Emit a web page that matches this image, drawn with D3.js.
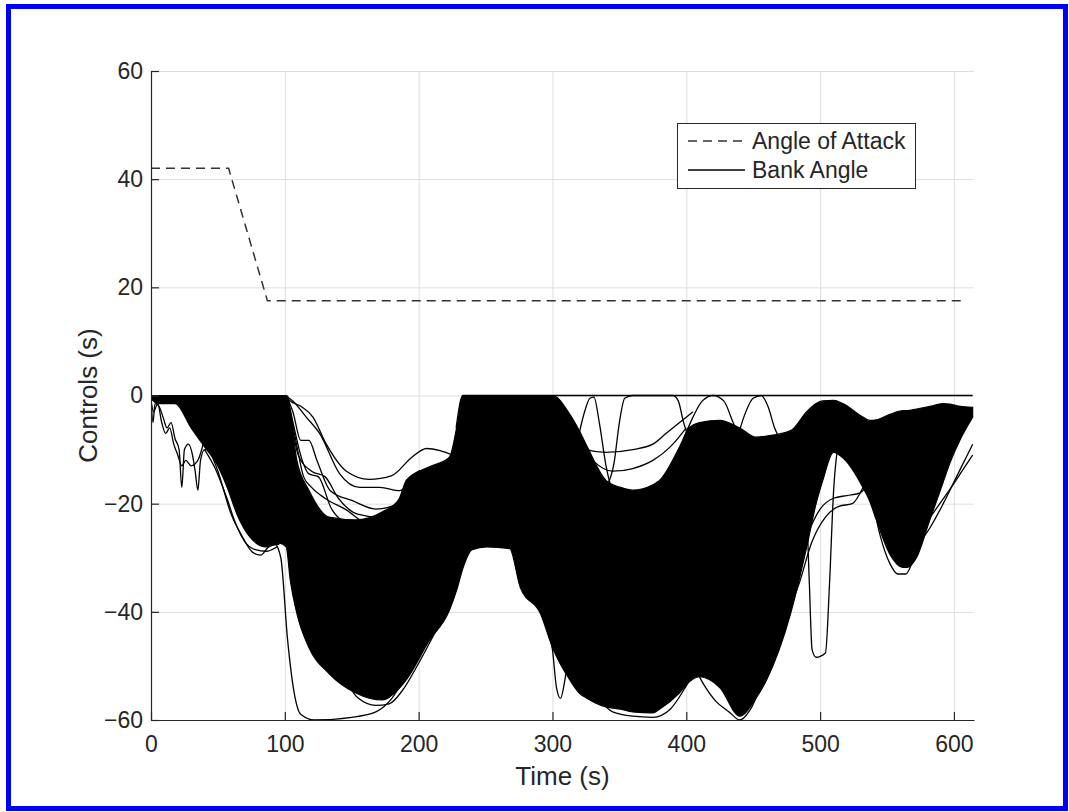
<!DOCTYPE html>
<html>
<head>
<meta charset="utf-8">
<script src="https://cdn.jsdelivr.net/npm/d3@7"></script>
<style>
  body { margin: 0; background: #fff; }
  svg { display: block; }
  text { font-family: "Liberation Sans", Arial, Helvetica, sans-serif; fill: #262626; }
</style>
</head>
<body>
<div id="chart"></div>
<script>
const width = 1069;
const height = 812;

// angle of attack schedule (time s, deg)
const aoaTime = [0, 58, 87, 607];
const aoaValue = [42, 42, 17.5, 17.5];

// dense envelope of the bank angle runs
const bankTime = [0, 5, 10, 18, 30, 40, 49, 57, 64, 74, 86, 96, 101, 104, 109, 118, 133, 153, 173, 185,
    191, 208, 223, 229, 233, 240, 251, 268, 276, 291, 300, 313, 320, 326, 340, 351, 360, 375, 380, 395,
    402, 410, 425, 440, 452, 460, 478, 490, 497, 502, 510, 517, 532, 537, 542, 552, 562, 565, 572, 582,
    592, 597, 605, 614];
const bankLow = [-0.5, -1.5, -1.5, -1.5, -6, -9.5, -12.6, -17, -21.8, -26.2, -28, -27.3, -28, -34, -40.3, -46.6, -51.4, -55, -56.3, -54.3,
    -52.5, -45.3, -39.7, -35.5, -32, -28.5, -28, -28.3, -35.5, -40.3, -46.6, -52.6, -55, -56, -57.6, -58, -58.5, -58.7, -58, -55,
    -53, -52, -54, -59.3, -56, -52.6, -40.3, -28, -20, -15.7, -10.5, -11.5, -17, -19.5, -23, -29.3, -31.8, -31.8, -30, -23,
    -16, -12.5, -8, -4];
const bankHigh = [0, 0, 0, 0, 0, 0, 0, 0, 0, 0, 0, 0, 0, -3, -12, -17.5, -22.5, -23, -21.5, -19.3,
    -15.6, -13.2, -11.4, -5.2, 0, 0, 0, 0, 0, 0, 0, -3.5, -6.5, -9.5, -15.7, -17, -17.5, -16.5, -15.7, -9.5,
    -6, -5, -4.6, -6, -7.7, -7.5, -6.5, -3, -1.5, -1, -0.9, -1.5, -4, -4.6, -4.5, -3.5, -2.8, -2.8, -2.5, -2,
    -1.5, -1.6, -2, -2.2];

// single runs that leave the dense envelope, [time, bank]
const bankRuns = [
    [[0, 0], [1.5, -5], [3, -1.5], [6, -2], [9, -4], [12, -6], [15, -5], [18, -8], [21, -10], [23, -17], [25, -10], [28, -9], [31, -11], [33, -14], [35, -17.5], [37, -12], [40, -10], [46, -10]],
    [[0, -1], [2, -3], [5, -1.5], [8, -5], [11, -7], [14, -6], [17, -9], [20, -11], [23, -13], [26, -12], [30, -13], [35, -12], [40, -8]],
    [[42, -9], [50, -14], [60, -22], [68, -26], [76, -29], [82, -29.5], [88, -28], [96, -27.5]],
    [[40, -10], [48, -13.5], [56, -18.5], [63, -23.5], [70, -27], [78, -28.5], [86, -28.8], [94, -28]],
    [[92, -27], [97, -30], [102, -45], [107, -55], [112, -59], [122, -60], [150, -59.5], [168, -58.5], [180, -56], [190, -52]],
    [[100, 0], [104, -1], [112, -2], [121, -4], [131, -9], [146, -14], [163, -15.5], [180, -14.8], [195, -11.4], [206, -9.8], [216, -10.2], [225, -11]],
    [[100, 0], [106, -1], [116, -4], [126, -7], [141, -14.5], [156, -17], [171, -17], [186, -17.6], [201, -13.9], [211, -14], [222, -13]],
    [[101, 0], [106, -3], [112, -8.3], [118, -8.3], [124, -12], [134, -17.6], [151, -19.5], [168, -21], [185, -20], [200, -16], [212, -15]],
    [[101, 0], [105, -5], [110, -11], [120, -14], [130, -15], [140, -19], [155, -22], [170, -22.5], [185, -21]],
    [[100, 0], [103, -2], [108, -8], [114, -15], [120, -17], [130, -19], [145, -21], [165, -24], [180, -23]],
    [[102, 0], [107, -6], [113, -12], [118, -14.5], [125, -15], [135, -21], [150, -24], [170, -25]],
    [[140, -50], [155, -56], [168, -57.3], [178, -57], [188, -54.5], [200, -49.5], [214, -43]],
    [[228, -6], [233, 0], [614, 0]],
    [[296, -42], [300, -47], [303, -54], [306, -56], [309, -53], [313, -46], [318, -40]],
    [[312, -14], [318, -9], [324, -3], [328, -0.5], [331, -0.3], [335, -5], [340, -13], [345, -18]],
    [[340, -17], [346, -12.5], [350, -5], [354, -0.5], [360, 0], [390, 0], [394, -1], [398, -5], [402, -8]],
    [[300, 0], [310, -4], [318, -8], [325, -10], [340, -10.5], [360, -10], [375, -9], [385, -7], [395, -5], [405, -3]],
    [[305, -2], [315, -7], [330, -12], [345, -14], [360, -13.5], [375, -12], [390, -9], [400, -6]],
    [[330, -54], [345, -58.5], [360, -59.3], [375, -59.5], [388, -58], [398, -54.5], [406, -51]],
    [[402, -48], [412, -53], [422, -56.5], [432, -58.5], [440, -60], [448, -58], [458, -52]],
    [[398, -8], [405, -4], [412, -1], [420, 0], [428, -1], [435, -5], [442, -9]],
    [[436, -10], [443, -4], [450, -0.5], [456, 0], [461, -2], [466, -6], [472, -9]],
    [[470, -40], [480, -33], [490, -26], [500, -21], [510, -19], [520, -18.5], [530, -18], [538, -15]],
    [[476, -40], [484, -35], [494, -27], [504, -22.5], [514, -20.5], [524, -20], [532, -17]],
    [[486, -8], [489, -15], [492, -35], [494, -47], [497, -48.4], [504, -47.6], [507, -35], [510, -18], [513, -10], [517, -7]],
    [[538, -18], [545, -26], [552, -31], [558, -33], [564, -33], [570, -30], [576, -25]],
    [[572, -28], [582, -24.5], [592, -20], [602, -15], [609, -11.5], [614, -9]],
    [[578, -24], [588, -20.5], [598, -17], [606, -14], [614, -11]]
];

const xTicks = [0, 100, 200, 300, 400, 500, 600];
const yTicks = [-60, -40, -20, 0, 20, 40, 60];

const margin = { left: 151, right: 974, top: 71, bottom: 720 };

const svg = d3.select("#chart").append("svg")
    .attr("width", width)
    .attr("height", height);

svg.append("rect")
    .attr("width", width)
    .attr("height", height)
    .attr("fill", "#fff");

const x = d3.scaleLinear().domain([0, 615]).range([margin.left, margin.right]);
const y = d3.scaleLinear().domain([-60, 60]).range([margin.bottom, margin.top]);

const plotW = margin.right - margin.left;
const plotH = margin.bottom - margin.top;

// grid
svg.append("g")
    .attr("transform", `translate(0,${margin.bottom})`)
    .call(d3.axisBottom(x).tickValues(xTicks).tickSize(-plotH).tickFormat(""))
    .call(g => g.select(".domain").remove())
    .call(g => g.selectAll("line").attr("stroke", "#dedede").attr("stroke-width", 1));

svg.append("g")
    .attr("transform", `translate(${margin.left},0)`)
    .call(d3.axisLeft(y).tickValues(yTicks).tickSize(-plotW).tickFormat(""))
    .call(g => g.select(".domain").remove())
    .call(g => g.selectAll("line").attr("stroke", "#dedede").attr("stroke-width", 1));

svg.append("defs").append("clipPath")
    .attr("id", "plot-clip")
    .append("rect")
    .attr("x", margin.left)
    .attr("y", margin.top - 2)
    .attr("width", plotW)
    .attr("height", plotH + 2);

const plot = svg.append("g").attr("clip-path", "url(#plot-clip)");

// dense band of runs
const bandData = bankTime.map((t, i) => ({ t: t, lo: bankLow[i], hi: bankHigh[i] }));
const band = d3.area()
    .x(d => x(d.t))
    .y0(d => y(d.lo))
    .y1(d => y(d.hi))
    .curve(d3.curveMonotoneX);

plot.append("path")
    .datum(bandData)
    .attr("d", band)
    .attr("fill", "#000")
    .attr("stroke", "#000")
    .attr("stroke-width", 1.2);

const runLine = d3.line()
    .x(d => x(d[0]))
    .y(d => y(d[1]))
    .curve(d3.curveMonotoneX);

bankRuns.forEach(run => {
    plot.append("path")
        .datum(run)
        .attr("d", runLine)
        .attr("fill", "none")
        .attr("stroke", "#000")
        .attr("stroke-width", 1.3);
});

// angle of attack
const aoaData = aoaTime.map((t, i) => [t, aoaValue[i]]);
plot.append("path")
    .datum(aoaData)
    .attr("d", d3.line().x(d => x(d[0])).y(d => y(d[1])))
    .attr("fill", "none")
    .attr("stroke", "#333")
    .attr("stroke-width", 1.5)
    .attr("stroke-dasharray", "9,6");

// axes
const xAxis = svg.append("g")
    .attr("transform", `translate(0,${margin.bottom})`)
    .call(d3.axisBottom(x).tickValues(xTicks).tickSizeInner(-8).tickSizeOuter(0).tickPadding(16));

const yAxis = svg.append("g")
    .attr("transform", `translate(${margin.left},0)`)
    .call(d3.axisLeft(y).tickValues(yTicks).tickSizeInner(-8).tickSizeOuter(0).tickPadding(8));

[xAxis, yAxis].forEach(g => {
    g.select(".domain").attr("stroke", "#262626").attr("stroke-width", 1.2);
    g.selectAll(".tick line").attr("stroke", "#262626").attr("stroke-width", 1.2);
    g.selectAll("text")
        .attr("fill", "#262626")
        .style("font-size", "23px")
        .style("font-family", "'Liberation Sans', Arial, sans-serif");
});

svg.append("text")
    .attr("x", (margin.left + margin.right) / 2)
    .attr("y", 785)
    .attr("text-anchor", "middle")
    .style("font-size", "26px")
    .text("Time (s)");

svg.append("text")
    .attr("transform", `translate(97,${(margin.top + margin.bottom) / 2}) rotate(-90)`)
    .attr("text-anchor", "middle")
    .style("font-size", "26px")
    .text("Controls (s)");

// legend
const legend = svg.append("g");
legend.append("rect")
    .attr("x", 677.5)
    .attr("y", 123.5)
    .attr("width", 238)
    .attr("height", 65)
    .attr("fill", "#fff")
    .attr("stroke", "#262626")
    .attr("stroke-width", 1);

legend.append("line")
    .attr("x1", 688).attr("x2", 745)
    .attr("y1", 141).attr("y2", 141)
    .attr("stroke", "#333")
    .attr("stroke-width", 1.5)
    .attr("stroke-dasharray", "9,6");

legend.append("line")
    .attr("x1", 688).attr("x2", 745)
    .attr("y1", 170).attr("y2", 170)
    .attr("stroke", "#000")
    .attr("stroke-width", 1.5);

legend.append("text")
    .attr("x", 752).attr("y", 149)
    .style("font-size", "23px")
    .text("Angle of Attack");

legend.append("text")
    .attr("x", 752).attr("y", 178)
    .style("font-size", "23px")
    .text("Bank Angle");

// blue frame
svg.append("rect")
    .attr("x", 8.5)
    .attr("y", 6.5)
    .attr("width", 1057)
    .attr("height", 802)
    .attr("fill", "none")
    .attr("stroke", "#0000ff")
    .attr("stroke-width", 5);
</script>
</body>
</html>
